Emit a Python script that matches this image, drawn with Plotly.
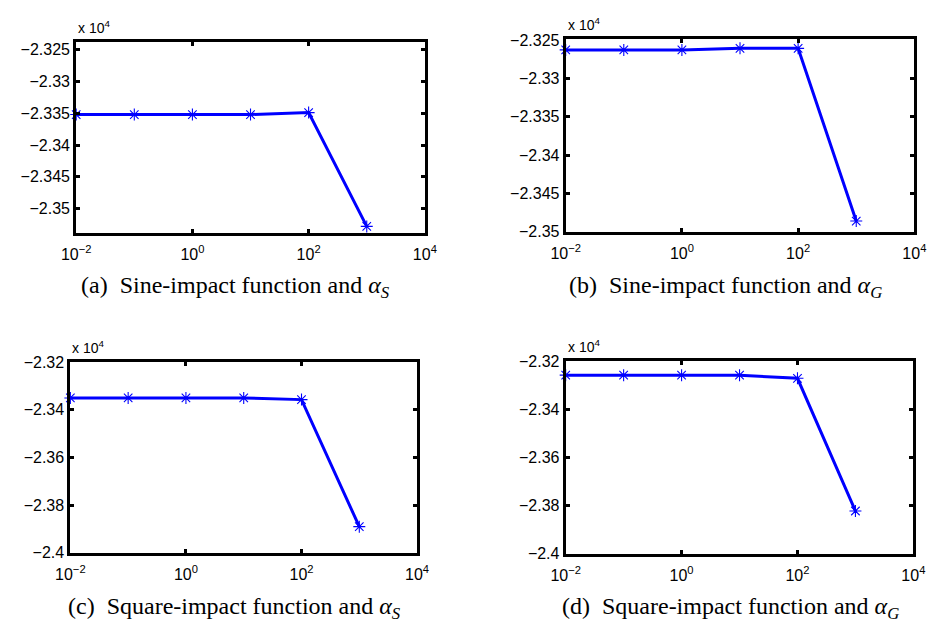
import plotly.graph_objects as go

W, H = 938, 630

alpha = [0.01, 0.1, 1, 10, 100, 1000]
sine_aS = [-2.3352, -2.3352, -2.3352, -2.3352, -2.3349, -2.3528]
sine_aG = [-2.3263, -2.3263, -2.3263, -2.3261, -2.3261, -2.3486]
square_aS = [-2.3350, -2.3350, -2.3350, -2.3350, -2.3357, -2.3890]
square_aG = [-2.3258, -2.3258, -2.3258, -2.3258, -2.3271, -2.3822]

yticks_sine = [-2.35, -2.345, -2.34, -2.335, -2.33, -2.325]
yticks_square = [-2.4, -2.38, -2.36, -2.34, -2.32]
xticks = [0.01, 1, 100, 10000]
xticktext = ["10<sup>\u22122</sup>", "10<sup>0</sup>", "10<sup>2</sup>", "10<sup>4</sup>"]

captions = [
    "(a)&nbsp;&nbsp;Sine-impact function and <i>\u03b1</i><sub><i>S</i></sub>",
    "(b)&nbsp;&nbsp;Sine-impact function and <i>\u03b1</i><sub><i>G</i></sub>",
    "(c)&nbsp;&nbsp;Square-impact function and <i>\u03b1</i><sub><i>S</i></sub>",
    "(d)&nbsp;&nbsp;Square-impact function and <i>\u03b1</i><sub><i>G</i></sub>",
]

series = [sine_aS, sine_aG, square_aS, square_aG]
yticks = [yticks_sine, yticks_sine, yticks_square, yticks_square]
yranges = [[-2.3538, -2.3238], [-2.3500, -2.3249], [-2.40, -2.32], [-2.40, -2.32]]
# pixel boxes: left, right, top, bottom
boxes = [(63, 422, 35, 231), (567, 926, 32, 230), (57, 414, 364, 560), (567, 925, 363, 561)]
cap_pos = [(227, 287), (732, 287), (226, 617), (737, 617)]


def fmt(v):
    s = ("%g" % v)
    return s.replace("-", "\u2212")


fig = go.Figure()
layout = dict(
    width=W, height=H, margin=dict(l=0, r=0, t=0, b=0),
    paper_bgcolor="white", plot_bgcolor="white", showlegend=False,
    font=dict(family="Liberation Sans, Arial, sans-serif", size=16, color="black"),
)
annotations = []
for i in range(4):
    l, r, t, b = boxes[i]
    xa = "xaxis" if i == 0 else "xaxis%d" % (i + 1)
    ya = "yaxis" if i == 0 else "yaxis%d" % (i + 1)
    xr = "x" if i == 0 else "x%d" % (i + 1)
    yr = "y" if i == 0 else "y%d" % (i + 1)
    fig.add_trace(go.Scatter(
        x=alpha, y=series[i], xaxis=xr, yaxis=yr, mode="lines+markers",
        line=dict(color="#0000ff", width=3),
        marker=dict(symbol="asterisk-open", size=10, color="#0000ff",
                    line=dict(color="#1a1aff", width=1.1)),
        cliponaxis=False,
    ))
    layout[xa] = dict(
        domain=[l / W, r / W], anchor=yr, type="log", range=[-2, 4],
        tickvals=xticks, ticktext=xticktext, ticks="inside", ticklen=4,
        tickwidth=3, tickcolor="black", showline=True, linewidth=3,
        linecolor="black", mirror="ticks", showgrid=False, zeroline=False,
        tickfont=dict(size=16), ticklabelstandoff=5, fixedrange=True,
    )
    layout[ya] = dict(
        domain=[1 - b / H, 1 - t / H], anchor=xr, range=yranges[i],
        tickvals=yticks[i], ticktext=[fmt(v) for v in yticks[i]],
        ticks="inside", ticklen=4, tickwidth=3, tickcolor="black",
        showline=True, linewidth=3, linecolor="black", mirror="ticks",
        showgrid=False, zeroline=False, tickfont=dict(size=16), fixedrange=True,
    )
    annotations.append(dict(
        x=l / W, y=1 - (t - 4) / H, xref="paper", yref="paper",
        xanchor="left", yanchor="bottom", showarrow=False,
        text="x 10<sup>4</sup>", font=dict(size=14),
    ))
    cx, cy = cap_pos[i]
    annotations.append(dict(
        x=cx / W, y=1 - cy / H, xref="paper", yref="paper",
        xanchor="center", yanchor="middle", showarrow=False,
        text=captions[i],
        font=dict(family="Liberation Serif, Times New Roman, serif", size=24),
    ))
layout["annotations"] = annotations
fig.update_layout(**layout)
fig.write_html("out.html", config={"displayModeBar": False},
               post_script="document.body.style.margin='0px';document.body.style.overflow='hidden';")
